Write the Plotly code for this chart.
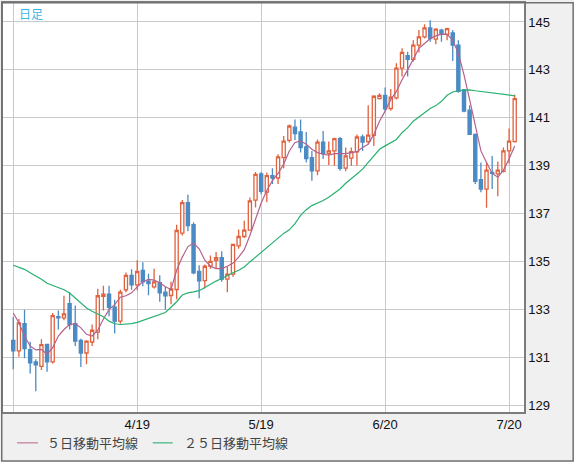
import pandas as pd
import plotly.graph_objects as go

# ---- data ----
dates = [d.strftime("%-m/%-d") for d in pd.bdate_range("2023-03-20", periods=90)]

opens = [131.72, 131.28, 132.42, 131.33, 130.82, 130.63, 131.55, 130.82, 132.71, 132.66,
         133.25, 132.42, 131.72, 131.19, 131.65, 132.06, 133.55, 133.65, 133.10, 132.52,
         133.83, 134.43, 134.03, 134.64, 134.19, 133.95, 134.13, 133.73, 133.59, 133.84,
         136.19, 137.46, 136.54, 134.59, 134.21, 134.81, 135.06, 135.17, 134.27, 134.48,
         135.66, 136.05, 136.32, 137.57, 138.66, 137.90, 138.59, 138.49, 139.34, 140.06,
         140.61, 140.41, 139.79, 139.34, 138.79, 139.99, 139.51, 139.62, 140.13, 138.90,
         139.32, 139.58, 140.20, 140.01, 140.27, 141.80, 141.94, 141.39, 141.83, 143.07,
         143.59, 143.44, 144.03, 144.38, 144.75, 144.28, 144.66, 144.48, 144.54, 144.03,
         142.17, 141.32, 140.31, 138.42, 138.03, 138.72, 138.66, 138.77, 139.62, 140.01]
highs = [132.69, 132.61, 133.00, 131.66, 130.93, 131.76, 131.57, 132.86, 132.96, 133.58,
         133.72, 133.17, 131.79, 131.72, 132.38, 133.87, 134.00, 134.00, 133.41, 133.83,
         134.55, 134.68, 135.06, 134.98, 134.50, 134.71, 134.43, 133.95, 134.16, 136.54,
         137.57, 137.79, 136.64, 134.85, 134.88, 135.26, 135.40, 135.44, 134.78, 135.74,
         136.34, 136.71, 137.68, 138.74, 138.74, 138.72, 138.90, 139.48, 140.24, 140.72,
         140.93, 140.93, 140.41, 139.62, 140.10, 140.45, 140.01, 140.17, 140.20, 139.76,
         139.76, 140.31, 140.31, 141.52, 141.94, 142.03, 142.27, 142.20, 143.28, 143.90,
         143.76, 144.24, 144.66, 144.90, 145.07, 144.74, 144.72, 144.76, 144.66, 144.24,
         142.20, 141.52, 140.35, 139.14, 139.14, 139.41, 139.18, 139.76, 140.56, 141.97]
lows = [130.51, 131.03, 130.97, 130.34, 129.60, 130.48, 130.41, 130.75, 132.17, 132.56,
        132.17, 131.48, 130.61, 130.72, 131.48, 131.76, 132.96, 132.72, 132.00, 132.41,
        133.72, 133.83, 133.81, 133.98, 133.60, 133.88, 133.33, 132.99, 133.22, 133.43,
        136.09, 136.27, 134.48, 133.47, 133.88, 134.71, 134.71, 134.16, 133.72, 134.37,
        135.54, 135.99, 136.30, 137.26, 137.81, 137.48, 138.24, 138.24, 138.90, 139.97,
        140.08, 139.55, 139.14, 138.38, 138.61, 139.28, 139.03, 139.00, 138.79, 138.77,
        139.00, 139.00, 139.62, 139.92, 139.83, 141.76, 141.28, 141.30, 141.76, 142.72,
        142.72, 143.34, 143.73, 144.31, 144.17, 144.07, 144.17, 144.24, 143.37, 142.05,
        141.23, 140.28, 138.24, 137.90, 137.25, 138.03, 137.73, 138.72, 139.10, 139.97]
closes = [131.28, 132.45, 131.37, 130.78, 130.70, 131.54, 130.82, 132.75, 132.66, 132.82,
          132.38, 131.69, 131.19, 131.69, 132.14, 133.58, 133.65, 133.10, 132.52, 133.73,
          134.43, 134.03, 134.59, 134.16, 134.09, 134.16, 133.70, 133.58, 133.86, 136.30,
          137.46, 136.50, 134.53, 134.20, 134.81, 135.01, 135.17, 134.27, 134.48, 135.72,
          136.05, 136.32, 137.54, 138.64, 137.93, 138.59, 138.49, 139.37, 140.03, 140.66,
          140.34, 139.76, 139.30, 138.79, 139.99, 139.51, 139.62, 140.13, 138.89, 139.41,
          139.59, 140.20, 139.99, 140.28, 141.90, 141.94, 141.37, 141.86, 143.07, 143.73,
          143.44, 144.03, 144.38, 144.75, 144.31, 144.70, 144.48, 144.72, 144.03, 142.10,
          141.28, 140.31, 138.35, 138.03, 138.82, 138.68, 138.82, 139.62, 140.03, 141.80]
ma5 = [132.86, 132.45, 131.90, 131.48, 131.32, 131.34, 131.14, 131.41, 131.90, 132.17,
       132.38, 132.42, 132.24, 131.97, 131.90, 132.14, 132.61, 133.00, 133.21, 133.52,
       133.58, 133.70, 133.95, 134.16, 134.26, 134.23, 134.12, 133.95, 133.84, 134.64,
       135.19, 135.63, 135.77, 135.54, 135.06, 134.81, 134.71, 134.71, 134.81, 134.94,
       135.19, 135.50, 136.09, 136.78, 137.45, 137.97, 138.38, 138.68, 139.07, 139.62,
       139.97, 140.03, 139.90, 139.69, 139.55, 139.48, 139.44, 139.51, 139.51, 139.51,
       139.55, 139.59, 139.76, 139.90, 140.31, 140.86, 141.28, 141.76, 142.10, 142.59,
       143.00, 143.48, 143.90, 144.10, 144.31, 144.42, 144.49, 144.48, 144.24, 143.69,
       142.79, 141.76, 140.66, 139.62, 139.14, 138.68, 138.52, 138.82, 139.28, 139.83]
ma25 = [134.85, 134.77, 134.68, 134.54, 134.41, 134.27, 134.10, 134.02, 133.94, 133.83,
        133.69, 133.48, 133.25, 133.07, 132.93, 132.83, 132.70, 132.52, 132.41, 132.38,
        132.39, 132.42, 132.47, 132.55, 132.64, 132.71, 132.78, 132.88, 133.10, 133.33,
        133.61, 133.70, 133.74, 133.79, 133.92, 134.06, 134.19, 134.30, 134.43, 134.54,
        134.64, 134.78, 134.99, 135.19, 135.40, 135.62, 135.82, 136.00, 136.18, 136.33,
        136.59, 136.93, 137.17, 137.34, 137.44, 137.55, 137.69, 137.86, 138.03, 138.27,
        138.45, 138.66, 138.86, 139.14, 139.41, 139.69, 139.83, 139.95, 140.10, 140.38,
        140.59, 140.86, 141.03, 141.21, 141.39, 141.51, 141.69, 141.94, 142.08, 142.14,
        142.17, 142.17, 142.13, 142.10, 142.08, 142.03, 141.99, 141.97, 141.94, 141.92]

tick_dates = ["3/20", "4/19", "5/19", "6/20", "7/20"]
tick_text = ["", "4/19", "5/19", "6/20", "7/20"]
y_ticks = [129, 131, 133, 135, 137, 139, 141, 143, 145]

title_text = "日足"
legend_ma5 = "５日移動平均線"
legend_ma25 = "２５日移動平均線"

UP = "#e0623f"
DOWN = "#4b8bc4"
MA5_C = "#b4618d"
MA25_C = "#27b06f"

W, H = 574, 462
ML, MR, MT, MB = 2, 50, 1, 50
PW, PH = W - ML - MR, H - MT - MB


def px_x(px):
    return (px - ML) / PW


def px_y(py):
    return (MT + PH - py) / PH


fig = go.Figure()
fig.add_trace(go.Candlestick(
    x=dates, open=opens, high=highs, low=lows, close=closes,
    increasing=dict(line=dict(color=UP, width=1.3), fillcolor="white"),
    decreasing=dict(line=dict(color=DOWN, width=1.3), fillcolor=DOWN),
    whiskerwidth=0, showlegend=False, name="日足",
))
fig.add_trace(go.Scatter(x=dates, y=ma5, mode="lines", name=legend_ma5,
                         line=dict(color=MA5_C, width=1.2), showlegend=False))
fig.add_trace(go.Scatter(x=dates, y=ma25, mode="lines", name=legend_ma25,
                         line=dict(color=MA25_C, width=1.2), showlegend=False))

axis_line = "#7c7c7c"
grid = "#c9c9c9"

fig.update_layout(
    width=W, height=H,
    margin=dict(l=ML, r=MR, t=MT, b=MB, pad=0),
    paper_bgcolor="#f0f0f0",
    plot_bgcolor="white",
    showlegend=False,
    boxgap=0.2,
    xaxis=dict(
        type="category", range=[-1.82, 90.65],
        tickvals=tick_dates, ticktext=tick_text,
        showgrid=True, gridcolor=grid, gridwidth=1.2,
        showline=True, linecolor=axis_line, linewidth=1.5, mirror=True,
        ticks="", rangeslider=dict(visible=False), fixedrange=True,
        tickfont=dict(family="Liberation Sans", size=13, color="#111"),
    ),
    yaxis=dict(
        side="right", range=[128.73, 145.79],
        tickvals=y_ticks,
        showgrid=True, gridcolor=grid, gridwidth=1.2,
        showline=True, linecolor=axis_line, linewidth=1.5, mirror=True,
        ticks="", zeroline=False,
        tickfont=dict(family="Liberation Sans", size=13, color="#111"),
    ),
    shapes=[
        dict(type="rect", xref="paper", yref="paper",
             x0=px_x(0.75), x1=px_x(W - 0.75), y0=px_y(H - 0.75), y1=px_y(0.75),
             line=dict(color="#707070", width=1.5), layer="above"),
        dict(type="line", xref="paper", yref="paper",
             x0=px_x(16), x1=px_x(37), y0=px_y(443), y1=px_y(443),
             line=dict(color="#c07a9c", width=1.2)),
        dict(type="line", xref="paper", yref="paper",
             x0=px_x(152), x1=px_x(172), y0=px_y(443), y1=px_y(443),
             line=dict(color="#3cb57e", width=1.2)),
    ],
    annotations=[
        dict(text=title_text, xref="paper", yref="paper", x=px_x(16), y=px_y(12),
             xanchor="left", yanchor="middle", showarrow=False,
             font=dict(family="Noto Sans CJK JP", size=12, color="#3cb4e8")),
        dict(text=legend_ma5, xref="paper", yref="paper", x=px_x(44), y=px_y(443),
             xanchor="left", yanchor="middle", showarrow=False,
             font=dict(family="Noto Sans CJK JP", size=13, color="#444")),
        dict(text=legend_ma25, xref="paper", yref="paper", x=px_x(181), y=px_y(443),
             xanchor="left", yanchor="middle", showarrow=False,
             font=dict(family="Noto Sans CJK JP", size=13, color="#444")),
    ],
)

fig.write_html(
    "out.html",
    config={"displayModeBar": False},
    post_script="document.body.style.margin='0';document.body.style.overflow='hidden';",
)
